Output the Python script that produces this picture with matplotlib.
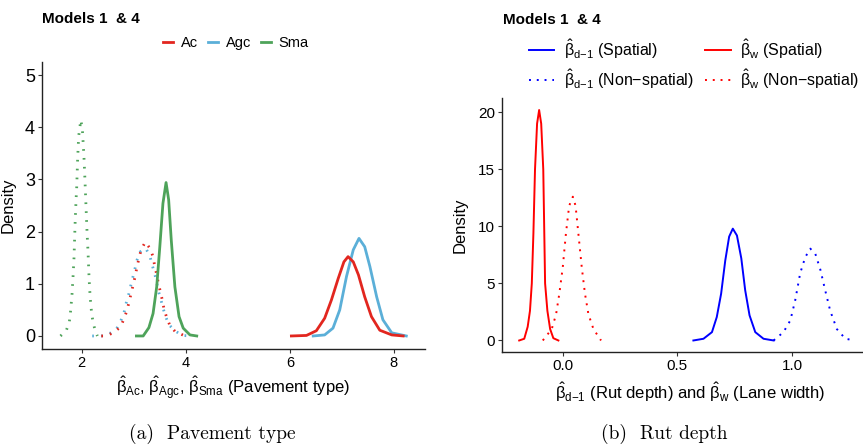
import matplotlib
matplotlib.use("Agg")
import matplotlib.pyplot as plt
from matplotlib.lines import Line2D

plt.rcParams['font.family'] = ['Liberation Sans', 'DejaVu Sans']
plt.rcParams['mathtext.fontset'] = 'custom'
plt.rcParams['mathtext.rm'] = 'Liberation Sans'
plt.rcParams['mathtext.it'] = 'Liberation Sans'
plt.rcParams['mathtext.bf'] = 'Liberation Sans:bold'

# ---- panel (a): pavement type ----
sma_ns_x = [1.59, 1.70, 1.76, 1.78, 1.81, 1.83, 1.85, 1.87, 1.89, 1.90, 1.92, 1.94, 1.96, 1.98,
            2.01, 2.02, 2.04, 2.06, 2.08, 2.10, 2.12, 2.14, 2.16, 2.19, 2.22, 2.26, 2.30]
sma_ns_y = [0.00, 0.10, 0.27, 0.43, 0.77, 1.11, 1.50, 2.13, 2.63, 2.80, 3.40, 3.83, 3.98, 4.14,
            3.97, 3.80, 3.46, 3.00, 2.50, 2.00, 1.60, 1.10, 0.75, 0.42, 0.25, 0.09, 0.00]

ac_ns_x = [2.29, 2.47, 2.62, 2.75, 2.81, 2.87, 2.91, 2.95, 2.99, 3.03, 3.06, 3.10, 3.14, 3.22,
           3.31, 3.37, 3.40, 3.44, 3.47, 3.51, 3.55, 3.58, 3.63, 3.69, 3.79, 3.96]
ac_ns_y = [0.00, 0.00, 0.07, 0.18, 0.33, 0.49, 0.66, 0.82, 0.99, 1.16, 1.32, 1.49, 1.65, 1.80,
           1.68, 1.52, 1.35, 1.18, 1.02, 0.85, 0.68, 0.52, 0.36, 0.21, 0.09, 0.01]

agc_ns_x = [2.20, 2.38, 2.54, 2.67, 2.75, 2.81, 2.85, 2.90, 2.94, 2.98, 3.02, 3.06, 3.12, 3.23,
            3.31, 3.35, 3.40, 3.44, 3.47, 3.52, 3.56, 3.61, 3.67, 3.79, 3.93, 4.11]
agc_ns_y = [0.00, 0.00, 0.05, 0.14, 0.29, 0.44, 0.62, 0.79, 0.96, 1.12, 1.28, 1.45, 1.61, 1.68,
            1.53, 1.37, 1.20, 1.03, 0.87, 0.70, 0.54, 0.38, 0.22, 0.10, 0.01, 0.00]

sma_sp_x = [3.05, 3.18, 3.29, 3.37, 3.44, 3.50, 3.56, 3.62, 3.67, 3.72, 3.79, 3.87, 3.95, 4.08, 4.21]
sma_sp_y = [0.00, 0.00, 0.16, 0.43, 0.94, 1.71, 2.54, 2.94, 2.61, 1.84, 0.94, 0.37, 0.15, 0.02, 0.00]

ac_sp_x = [6.03, 6.32, 6.51, 6.67, 6.80, 6.93, 7.04, 7.12, 7.22, 7.32, 7.44, 7.57, 7.73, 7.96, 8.18]
ac_sp_y = [0.00, 0.01, 0.10, 0.34, 0.69, 1.10, 1.42, 1.52, 1.42, 1.17, 0.75, 0.37, 0.11, 0.02, 0.00]

agc_sp_x = [6.45, 6.67, 6.83, 6.96, 7.09, 7.22, 7.33, 7.44, 7.54, 7.67, 7.79, 7.96, 8.24]
agc_sp_y = [0.00, 0.02, 0.15, 0.50, 1.14, 1.65, 1.87, 1.71, 1.33, 0.75, 0.31, 0.06, 0.00]

pave_names = ['Ac', 'Agc', 'Sma']
pave_colors = ['#E2261F', '#5BAFD8', '#4EA35A']

# ---- panel (b): rut depth / lane width ----
w_sp_x = [-0.190, -0.168, -0.153, -0.143, -0.135, -0.128, -0.121, -0.112, -0.103, -0.094,
          -0.085, -0.077, -0.067, -0.055, -0.041, -0.019]
w_sp_y = [0.0, 0.15, 1.2, 2.6, 5.0, 9.4, 15.0, 19.0, 20.2, 19.0, 15.0, 5.0, 2.6, 1.0, 0.2, 0.0]

w_ns_x = [-0.087, -0.048, -0.029, -0.015, 0.000, 0.014, 0.028, 0.044, 0.056, 0.068, 0.083,
          0.097, 0.112, 0.134, 0.167]
w_ns_y = [0.0, 1.0, 2.3, 4.1, 6.4, 9.4, 11.8, 12.6, 11.8, 9.4, 6.4, 4.1, 2.3, 1.0, 0.0]

d_sp_x = [0.570, 0.614, 0.651, 0.672, 0.691, 0.709, 0.726, 0.742, 0.760, 0.779, 0.796, 0.815,
          0.840, 0.876, 0.920]
d_sp_y = [0.0, 0.15, 0.73, 2.05, 4.1, 7.0, 9.1, 9.8, 9.2, 7.2, 4.4, 2.2, 0.73, 0.15, 0.0]

d_ns_x = [0.920, 0.963, 0.993, 1.014, 1.036, 1.058, 1.080, 1.102, 1.124, 1.145, 1.167, 1.196,
          1.233, 1.276]
d_ns_y = [0.0, 0.73, 1.76, 3.5, 5.9, 7.3, 8.05, 7.6, 6.2, 4.4, 2.6, 1.0, 0.15, 0.0]

fig = plt.figure(figsize=(8.63, 4.45), dpi=100)


def style_axes(ax, ysize, xsize):
    for s in ['top', 'right']:
        ax.spines[s].set_visible(False)
    for s in ['left', 'bottom']:
        ax.spines[s].set_color('#222222')
        ax.spines[s].set_linewidth(1.0)
    ax.tick_params(axis='both', length=3, width=0.8, color='#333333', pad=2)
    ax.tick_params(axis='y', labelsize=ysize)
    ax.tick_params(axis='x', labelsize=xsize)
    ax.set_facecolor('white')


# panel (a)
ax1 = fig.add_axes([0.0487, 0.2157, 0.4438, 0.645])
dots = (0, (0.6, 2.6))
ax1.plot(sma_ns_x, sma_ns_y, color=pave_colors[2], lw=2, ls=dots)
ax1.plot(agc_ns_x, agc_ns_y, color=pave_colors[1], lw=2, ls=dots)
ax1.plot(ac_ns_x, ac_ns_y, color=pave_colors[0], lw=2, ls=(1.6, (0.6, 2.6)))
ax1.plot(sma_sp_x, sma_sp_y, color=pave_colors[2], lw=2)
ax1.plot(agc_sp_x, agc_sp_y, color=pave_colors[1], lw=2)
ax1.plot(ac_sp_x, ac_sp_y, color=pave_colors[0], lw=2)
ax1.set_xlim(1.235, 8.6)
ax1.set_ylim(-0.25, 5.25)
ax1.set_xticks([2, 4, 6, 8])
ax1.set_yticks([0, 1, 2, 3, 4, 5])
style_axes(ax1, 13, 10.5)
ax1.set_ylabel('Density', fontsize=12)
ax1.yaxis.set_label_coords(-0.068, 0.5)
ax1.set_xlabel(r'$\hat{\beta}_{\mathrm{Ac}}$, $\hat{\beta}_{\mathrm{Agc}}$, '
               r'$\hat{\beta}_{\mathrm{Sma}}$ (Pavement type)', fontsize=12)
ax1.xaxis.set_label_coords(0.50, -0.09)

handles1 = [Line2D([], [], color=c, lw=2) for c in pave_colors]
fig.legend(handles1, pave_names, loc='center', bbox_to_anchor=(236 / 863, 1 - 43 / 445),
           ncol=3, frameon=False, fontsize=10.5, handlelength=0.7, handletextpad=0.5,
           columnspacing=0.7)

fig.text(42 / 863, 1 - 19 / 445, 'Models 1  & 4', fontsize=11, fontweight='bold',
         va='center', ha='left')
fig.text(212 / 863, 1 - 434 / 445, '(a)  Pavement type', fontsize=14, family='cmr10',
         va='center', ha='center')

# panel (b)
ax2 = fig.add_axes([0.5817, 0.209, 0.4183, 0.571])
l1, = ax2.plot(d_sp_x, d_sp_y, color='blue', lw=1.4)
l2, = ax2.plot(d_ns_x, d_ns_y, color='blue', lw=1.4, ls=(0, (1, 3)))
l3, = ax2.plot(w_sp_x, w_sp_y, color='red', lw=1.4)
l4, = ax2.plot(w_ns_x, w_ns_y, color='red', lw=1.4, ls=(0, (1, 3)))
ax2.set_xlim(-0.265, 1.31)
ax2.set_ylim(-1.01, 21.26)
ax2.set_xticks([0.0, 0.5, 1.0])
ax2.set_xticklabels(['0.0', '0.5', '1.0'])
ax2.set_yticks([0, 5, 10, 15, 20])
style_axes(ax2, 11, 11)
ax2.set_ylabel('Density', fontsize=12)
ax2.yaxis.set_label_coords(-0.095, 0.5)
ax2.set_xlabel(r'$\hat{\beta}_{\text{d−1}}$ (Rut depth) and $\hat{\beta}_{\mathrm{w}}$ (Lane width)',
               fontsize=12)
ax2.xaxis.set_label_coords(0.52, -0.11)

labels2 = [r'$\hat{\beta}_{\text{d−1}}$ (Spatial)', r'$\hat{\beta}_{\text{d−1}}$ (Non−spatial)',
           r'$\hat{\beta}_{\mathrm{w}}$ (Spatial)', r'$\hat{\beta}_{\mathrm{w}}$ (Non−spatial)']
fig.legend([l1, l2, l3, l4], labels2, loc='center', bbox_to_anchor=(694 / 863, 1 - 64 / 445),
           ncol=2, frameon=False, fontsize=11.5, handlelength=1.6, handletextpad=0.6,
           columnspacing=0.7, labelspacing=0.4)

fig.text(503 / 863, 1 - 20 / 445, 'Models 1  & 4', fontsize=11, fontweight='bold',
         va='center', ha='left')
fig.text(664 / 863, 1 - 434 / 445, '(b)  Rut depth', fontsize=14, family='cmr10',
         va='center', ha='center')

fig.savefig('out.png', dpi=100, facecolor='white')
